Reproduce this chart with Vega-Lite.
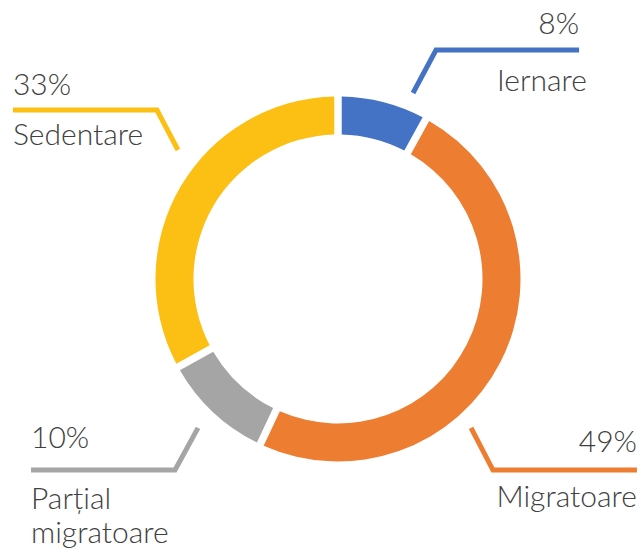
{
  "$schema": "https://vega.github.io/schema/vega-lite/v6.json",
  "width": 600,
  "height": 540,
  "autosize": {"type": "none"},
  "padding": {"left": 38, "top": 9, "right": 5, "bottom": 1},
  "background": "white",
  "view": {"stroke": null},
  "config": {"font": "Lato"},
  "datasets": {
    "slices": [
      {"category": "Iernare", "value": 8, "order": 1},
      {"category": "Migratoare", "value": 49, "order": 2},
      {"category": "Parțial migratoare", "value": 10, "order": 3},
      {"category": "Sedentare", "value": 33, "order": 4}
    ],
    "leaders": [
      {"category": "Iernare", "step": 1, "lx": 41.1, "ly": 101.9},
      {"category": "Iernare", "step": 2, "lx": 53.7, "ly": 125.5},
      {"category": "Iernare", "step": 3, "lx": 132.1, "ly": 125.5},
      {"category": "Migratoare", "step": 1, "lx": 72.9, "ly": -81.6},
      {"category": "Migratoare", "step": 2, "lx": 84.9, "ly": -104.7},
      {"category": "Migratoare", "step": 3, "lx": 163.8, "ly": -104.7},
      {"category": "Parțial migratoare", "step": 1, "lx": -76.7, "ly": -81.6},
      {"category": "Parțial migratoare", "step": 2, "lx": -89.3, "ly": -104.7},
      {"category": "Parțial migratoare", "step": 3, "lx": -168.2, "ly": -104.7},
      {"category": "Sedentare", "step": 1, "lx": -87.7, "ly": 70.7},
      {"category": "Sedentare", "step": 2, "lx": -99.2, "ly": 92.6},
      {"category": "Sedentare", "step": 3, "lx": -178.1, "ly": 92.6}
    ],
    "labels": [
      {"text": "8%", "side": "right", "lx": 132.1, "ly": 134.2},
      {"text": "Iernare", "side": "right", "lx": 136.4, "ly": 103.0},
      {"text": "49%", "side": "right", "lx": 163.8, "ly": -94.8},
      {"text": "Migratoare", "side": "right", "lx": 163.8, "ly": -124.9},
      {"text": "10%", "side": "left", "lx": -168.2, "ly": -92.6},
      {"text": "Parțial", "side": "left", "lx": -168.2, "ly": -126.0},
      {"text": "migratoare", "side": "left", "lx": -168.2, "ly": -144.7},
      {"text": "33%", "side": "left", "lx": -178.1, "ly": 100.8},
      {"text": "Sedentare", "side": "left", "lx": -178.1, "ly": 73.4}
    ]
  },
  "layer": [
    {
      "data": {"name": "slices"},
      "mark": {"type": "arc", "innerRadius": 144.5, "outerRadius": 182.5, "padAngle": 0.032},
      "encoding": {
        "theta": {"field": "value", "type": "quantitative", "stack": true},
        "order": {"field": "order", "type": "quantitative"},
        "color": {
          "field": "category",
          "type": "nominal",
          "scale": {
            "domain": ["Iernare", "Migratoare", "Parțial migratoare", "Sedentare"],
            "range": ["#4472C4", "#ED7D31", "#A5A5A5", "#FCBF14"]
          },
          "legend": null
        }
      }
    },
    {
      "data": {"name": "leaders"},
      "mark": {"type": "line", "strokeWidth": 5, "strokeCap": "butt", "strokeJoin": "miter"},
      "encoding": {
        "x": {"field": "lx", "type": "quantitative", "scale": {"domain": [-164.38, 164.38], "nice": false, "zero": false}, "axis": null},
        "y": {"field": "ly", "type": "quantitative", "scale": {"domain": [-147.95, 147.95], "nice": false, "zero": false}, "axis": null},
        "order": {"field": "step", "type": "quantitative"},
        "color": {"field": "category", "type": "nominal", "legend": null}
      }
    },
    {
      "data": {"name": "labels"},
      "transform": [{"filter": "datum.side === 'left'"}],
      "mark": {"type": "text", "align": "left", "baseline": "alphabetic", "fontSize": 30, "fontWeight": 300, "color": "#404040"},
      "encoding": {
        "x": {"field": "lx", "type": "quantitative"},
        "y": {"field": "ly", "type": "quantitative"},
        "text": {"field": "text"}
      }
    },
    {
      "data": {"name": "labels"},
      "transform": [{"filter": "datum.side === 'right'"}],
      "mark": {"type": "text", "align": "right", "baseline": "alphabetic", "fontSize": 30, "fontWeight": 300, "color": "#404040"},
      "encoding": {
        "x": {"field": "lx", "type": "quantitative"},
        "y": {"field": "ly", "type": "quantitative"},
        "text": {"field": "text"}
      }
    }
  ]
}
